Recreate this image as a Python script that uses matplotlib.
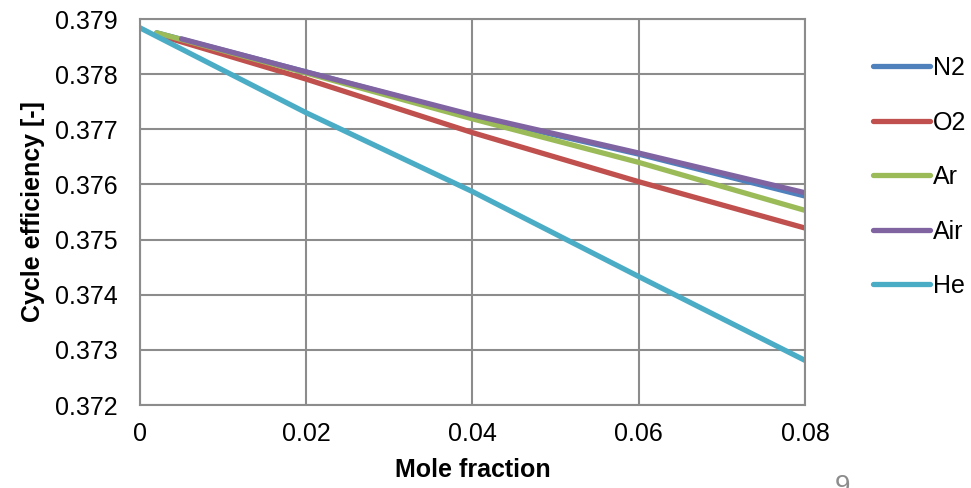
import numpy as np
import matplotlib.pyplot as plt

plt.rcParams['font.family'] = ['Liberation Sans', 'DejaVu Sans']

# values
x_gas = [0.002, 0.02, 0.04, 0.06, 0.08]
n2 = [0.37875, 0.37804, 0.37724, 0.37655, 0.37579]
o2 = [0.37872, 0.37791, 0.37694, 0.37605, 0.37521]
ar = [0.37875, 0.37802, 0.37719, 0.37640, 0.37553]
x_air = [0.005, 0.02, 0.04, 0.06, 0.08]
air = [0.37864, 0.37804, 0.37726, 0.37657, 0.37585]
x_he = [0.0, 0.02, 0.04, 0.06, 0.08]
he = [0.37884, 0.37730, 0.37587, 0.37433, 0.37281]

fig = plt.figure(figsize=(9.71, 4.88), dpi=100)
ax = fig.add_axes([0.1442, 0.170, 0.829 - 0.1442, 0.961 - 0.170])

lw = 3.8
ax.plot(x_gas, n2, color='#4F81BD', lw=lw, label='N2', solid_capstyle='round')
ax.plot(x_gas, o2, color='#C0504D', lw=lw, label='O2', solid_capstyle='round')
ax.plot(x_gas, ar, color='#9BBB59', lw=lw, label='Ar', solid_capstyle='round')
ax.plot(x_air, air, color='#8064A2', lw=lw, label='Air', solid_capstyle='round')
ax.plot(x_he, he, color='#4BACC6', lw=lw, label='He', solid_capstyle='round')

ax.set_xlim(0, 0.08)
ax.set_ylim(0.372, 0.379)
ax.set_xticks([0, 0.02, 0.04, 0.06, 0.08])
ax.set_xticklabels(['0', '0.02', '0.04', '0.06', '0.08'])
ax.set_yticks(np.arange(0.372, 0.3791, 0.001))
ax.set_yticklabels(['%.3f' % v for v in np.arange(0.372, 0.3791, 0.001)])
ax.tick_params(length=0, labelsize=18)
ax.tick_params(axis='y', pad=16)
ax.tick_params(axis='x', pad=12)
ax.grid(color='#8c8c8c', lw=1.5)
ax.set_axisbelow(True)
for s in ax.spines.values():
    s.set_color('#8c8c8c')
    s.set_linewidth(1.5)

ax.set_xlabel('Mole fraction', fontsize=18, fontweight='bold', labelpad=9)
ax.set_ylabel('Cycle efficiency [-]', fontsize=18, fontweight='bold', labelpad=7)

fig.legend(loc='upper left', bbox_to_anchor=(0.899, 0.885), frameon=False,
           fontsize=18, handlelength=2.3, handletextpad=0.1, labelspacing=1.22,
           borderpad=0, borderaxespad=0)

fig.text(843 / 971, 14 / 488, '9', fontsize=20, color='#8c8c8c', ha='center', va='top')

fig.savefig('out.png', dpi=100)
